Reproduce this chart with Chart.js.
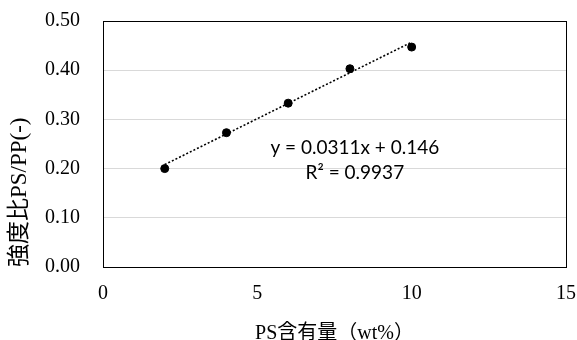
<!DOCTYPE html>
<html>
<head>
<meta charset="utf-8">
<script src="https://cdn.jsdelivr.net/npm/chart.js@4"></script>
<style>
  html, body { margin: 0; padding: 0; background: #fff; }
  #wrap { width: 577px; height: 340px; }
</style>
</head>
<body>
<div id="wrap"><canvas id="c" width="577" height="340"></canvas></div>
<script>
// PS content (wt%) and strength ratio PS/PP
const psContent = [2, 4, 6, 8, 10];
const strengthRatio = [0.200, 0.273, 0.333, 0.403, 0.447];

// Linear fit y = slope * x + intercept
const fitSlope = 0.0311;
const fitIntercept = 0.146;
const fitR2 = 0.9937;
const fitRange = [2, 10];

const xTicks = [0, 5, 10, 15];
const yTicks = [0, 0.1, 0.2, 0.3, 0.4, 0.5];

const serif = '"Liberation Serif", "Times New Roman", serif';
const cjkSerif = '"Liberation Serif", "Noto Sans CJK JP", serif';

const trendPoints = fitRange.map(x => ({ x: x, y: fitSlope * x + fitIntercept }));
const scatterPoints = psContent.map((x, i) => ({ x: x, y: strengthRatio[i] }));

// Frame round the plot area and the fit equation text
const framePlugin = {
  id: 'frame',
  afterDatasetsDraw(chart) {
    const { ctx, chartArea: a, scales } = chart;
    ctx.save();
    ctx.strokeStyle = '#000';
    ctx.lineWidth = 1;
    ctx.strokeRect(Math.round(a.left) + 0.5, Math.round(a.top) + 0.5,
                   Math.round(a.right - a.left), Math.round(a.bottom - a.top));
    ctx.fillStyle = '#000';
    ctx.font = '19px Lato, "Open Sans", sans-serif';
    ctx.textAlign = 'center';
    ctx.textBaseline = 'middle';
    const cx = scales.x.getPixelForValue(8.16);
    const eq = 'y = ' + fitSlope + 'x + ' + fitIntercept;
    ctx.fillText(eq, cx, scales.y.getPixelForValue(0.242));
    ctx.fillText('R² = ' + fitR2, cx, scales.y.getPixelForValue(0.191));
    ctx.restore();
  }
};

new Chart(document.getElementById('c'), {
  type: 'scatter',
  data: {
    datasets: [
      {
        label: 'trend',
        data: trendPoints,
        showLine: true,
        borderColor: '#000',
        borderWidth: 1.6,
        borderDash: [2, 2],
        pointRadius: 0,
        fill: false
      },
      {
        label: 'data',
        data: scatterPoints,
        backgroundColor: '#000',
        borderColor: '#000',
        pointRadius: 4,
        pointHoverRadius: 4
      }
    ]
  },
  options: {
    responsive: false,
    animation: false,
    events: [],
    layout: { padding: { left: 0, right: 11, top: 21, bottom: 0 } },
    plugins: {
      legend: { display: false },
      tooltip: { enabled: false }
    },
    scales: {
      x: {
        type: 'linear',
        min: 0, max: 15,
        afterBuildTicks(s) { s.ticks = xTicks.map(v => ({ value: v })); },
        afterFit(s) { s.height = 73; s.paddingLeft = 0; s.paddingRight = 0; },
        grid: { display: false, drawTicks: false },
        border: { display: false },
        ticks: {
          padding: 15,
          color: '#000',
          font: { family: serif, size: 20 }
        },
        title: {
          display: true,
          text: 'PS含有量（wt%）',
          color: '#000',
          font: { family: cjkSerif, size: 20 },
          padding: { top: -6, bottom: -6 }
        }
      },
      y: {
        type: 'linear',
        min: 0, max: 0.5,
        afterBuildTicks(s) { s.ticks = yTicks.map(v => ({ value: v })); },
        afterFit(s) { s.width = 103; s.paddingTop = 0; s.paddingBottom = 0; },
        grid: {
          drawTicks: false,
          color: ctx => (ctx.tick && (ctx.tick.value === 0 || ctx.tick.value === 0.5)) ? 'rgba(0,0,0,0)' : '#d9d9d9',
          lineWidth: 1
        },
        border: { display: false },
        ticks: {
          padding: 23,
          color: '#000',
          font: { family: serif, size: 20 },
          callback: v => Number(v).toFixed(2)
        },
        title: {
          display: true,
          align: 'start',
          text: '強度比PS/PP(-)',
          color: '#000',
          font: { family: cjkSerif, size: 23 },
          padding: { top: 6, bottom: 6 }
        }
      }
    }
  },
  plugins: [framePlugin]
});
</script>
</body>
</html>
